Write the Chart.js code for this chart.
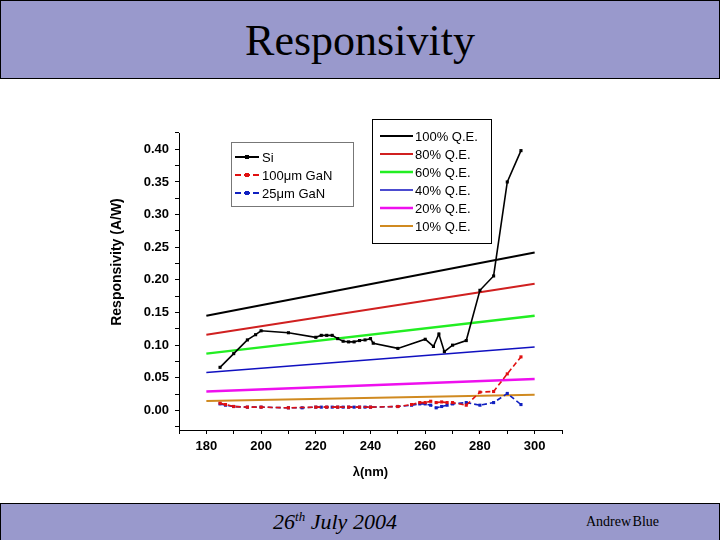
<!DOCTYPE html>
<html>
<head>
<meta charset="utf-8">
<script src="https://cdn.jsdelivr.net/npm/chart.js@4"></script>
<style>
    body { margin: 0; width: 720px; height: 540px; position: relative; background: #fff; overflow: hidden; }
    #titleBar { position: absolute; left: 0; top: 0; width: 718px; height: 77px; background: #9999cc; border: 1px solid #000; }
    #titleBar h1 { margin: 0; font: 44px "Liberation Serif", serif; text-align: center; line-height: 80px; color: #000; font-weight: normal; }
    #footer { position: absolute; left: 0; top: 503px; width: 718px; height: 37px; background: #9999cc; border: 1px solid #000; border-bottom: none; }
    #date { position: absolute; left: 0; width: 668px; text-align: center; top: 5px; font: italic 22px "Liberation Serif", serif; }
    #date sup { font-size: 13px; }
    #author { position: absolute; left: 585px; top: 10px; font: 14px "Liberation Serif", serif; word-spacing: -2px; }
    #chart { position: absolute; left: 0; top: 0; }
</style>
</head>
<body>
<div id="titleBar"><h1>Responsivity</h1></div>
<div id="footer">
    <div id="date">26<sup>th</sup> July 2004</div>
    <div id="author">Andrew Blue</div>
</div>
<canvas id="chart" width="720" height="540"></canvas>
<script>
"use strict";

// measured data
const siWavelength = [185, 190, 195, 198, 200, 210, 220, 222, 224, 226, 228, 230, 232, 234, 236, 238, 240, 241, 250, 260, 263, 265, 267, 270, 275, 280, 285, 290, 295];
const siResp = [0.066, 0.087, 0.108, 0.116, 0.122, 0.119, 0.112, 0.115, 0.115, 0.115, 0.110, 0.106, 0.105, 0.105, 0.107, 0.108, 0.110, 0.103, 0.095, 0.109, 0.098, 0.117, 0.090, 0.100, 0.107, 0.184, 0.206, 0.350, 0.398];

const gan100Wavelength = [185, 187, 190, 195, 200, 210, 220, 224, 228, 232, 236, 240, 250, 255, 258, 260, 262, 264, 266, 268, 270, 275, 280, 285, 290, 295];
const gan100Resp = [0.011, 0.009, 0.006, 0.005, 0.005, 0.004, 0.005, 0.005, 0.005, 0.005, 0.005, 0.005, 0.006, 0.009, 0.012, 0.012, 0.014, 0.012, 0.013, 0.012, 0.012, 0.008, 0.028, 0.029, 0.056, 0.082];

const gan25Wavelength = [185, 187, 190, 195, 200, 210, 215, 220, 222, 224, 226, 228, 230, 232, 234, 236, 238, 240, 250, 255, 258, 260, 262, 264, 266, 268, 270, 275, 280, 285, 290, 295];
const gan25Resp = [0.010, 0.008, 0.006, 0.005, 0.005, 0.004, 0.004, 0.005, 0.005, 0.005, 0.005, 0.005, 0.005, 0.005, 0.005, 0.005, 0.005, 0.005, 0.006, 0.008, 0.010, 0.010, 0.008, 0.004, 0.006, 0.008, 0.010, 0.012, 0.008, 0.012, 0.026, 0.009];

// quantum efficiency reference lines (end points)
const qeWavelength = [180, 300];
const qeLabels = ["100% Q.E.", "80% Q.E.", "60% Q.E.", "40% Q.E.", "20% Q.E.", "10% Q.E."];
const qe100 = [0.145, 0.242];
const qe80 = [0.116, 0.194];
const qe60 = [0.087, 0.145];
const qe40 = [0.058, 0.097];
const qe20 = [0.029, 0.048];
const qe10 = [0.0145, 0.024];

const measuredLabels = ["Si", "100\u03bcm GaN", "25\u03bcm GaN"];
const xMajorTicks = [180, 200, 220, 240, 260, 280, 300];
const yMajorTicks = [0.00, 0.05, 0.10, 0.15, 0.20, 0.25, 0.30, 0.35, 0.40];

function toPoints(xs, ys) {
    return xs.map((x, i) => ({ x: x, y: ys[i] }));
}

function measured(label, xs, ys, color, dash) {
    return {
        label: label,
        data: toPoints(xs, ys),
        borderColor: color,
        backgroundColor: color,
        borderWidth: 1.6,
        borderDash: dash,
        pointStyle: 'rect',
        pointRadius: 2.2,
        pointBorderWidth: 0,
        pointBackgroundColor: color
    };
}

function qeLine(label, ys, color, width) {
    return {
        label: label,
        data: toPoints(qeWavelength, ys),
        borderColor: color,
        borderWidth: width,
        pointRadius: 0
    };
}

const legendPlugin = {
    id: 'boxLegends',
    afterDraw(chart) {
        const ctx = chart.ctx;
        const sets = chart.data.datasets;
        ctx.save();

        // y axis title
        ctx.save();
        ctx.translate(117, 262);
        ctx.rotate(-Math.PI / 2);
        ctx.font = 'bold 14px "Liberation Sans", Arial, sans-serif';
        ctx.fillStyle = '#000';
        ctx.textAlign = 'center';
        ctx.textBaseline = 'middle';
        ctx.fillText('Responsivity (A/W)', 0, 0);
        ctx.restore();

        ctx.font = '13px "Liberation Sans", Arial, sans-serif';
        ctx.textBaseline = 'middle';
        ctx.textAlign = 'left';

        // measured legend
        ctx.fillStyle = '#fff';
        ctx.fillRect(231, 142, 122, 64);
        ctx.strokeStyle = '#777';
        ctx.lineWidth = 1;
        ctx.strokeRect(231.5, 142.5, 122, 64);
        sets.slice(0, 3).forEach((ds, i) => {
            const y = 157 + i * 18;
            ctx.strokeStyle = ds.borderColor;
            ctx.lineWidth = 2;
            ctx.setLineDash(i === 0 ? [] : [6, 3]);
            ctx.beginPath();
            ctx.moveTo(235, y);
            ctx.lineTo(259, y);
            ctx.stroke();
            ctx.setLineDash([]);
            ctx.fillStyle = ds.borderColor;
            ctx.fillRect(245, y - 2, 4, 4);
            ctx.fillStyle = '#000';
            ctx.fillText(ds.label, 262, y + 1);
        });

        // Q.E. legend
        ctx.fillStyle = '#fff';
        ctx.fillRect(372, 119, 119, 124);
        ctx.strokeStyle = '#000';
        ctx.lineWidth = 1;
        ctx.strokeRect(372.5, 119.5, 119, 124);
        sets.slice(3).forEach((ds, i) => {
            const y = 136 + i * 18;
            ctx.strokeStyle = ds.borderColor;
            ctx.lineWidth = ds.borderWidth;
            ctx.beginPath();
            ctx.moveTo(380, y);
            ctx.lineTo(413, y);
            ctx.stroke();
            ctx.fillStyle = '#000';
            ctx.fillText(ds.label, 415, y + 1);
        });
        ctx.restore();
    }
};

const ctx = document.getElementById('chart').getContext('2d');
new Chart(ctx, {
    type: 'line',
    data: {
        datasets: [
            measured(measuredLabels[0], siWavelength, siResp, '#000000', []),
            measured(measuredLabels[1], gan100Wavelength, gan100Resp, '#e01010', [5, 3]),
            measured(measuredLabels[2], gan25Wavelength, gan25Resp, '#1020c0', [5, 3]),
            qeLine(qeLabels[0], qe100, '#000000', 2),
            qeLine(qeLabels[1], qe80, '#d02020', 2),
            qeLine(qeLabels[2], qe60, '#22ee22', 2.5),
            qeLine(qeLabels[3], qe40, '#1010c0', 1.5),
            qeLine(qeLabels[4], qe20, '#ee10ee', 2.5),
            qeLine(qeLabels[5], qe10, '#d08a20', 2)
        ]
    },
    options: {
        responsive: false,
        animation: false,
        layout: { padding: { left: 109, top: 133, right: 158, bottom: 60 } },
        plugins: {
            legend: { display: false },
            tooltip: { enabled: false }
        },
        scales: {
            x: {
                type: 'linear',
                min: 170,
                max: 310,
                afterBuildTicks: (scale) => {
                    let ticks = [];
                    xMajorTicks.forEach(v => { ticks.push({ value: v - 10 }); ticks.push({ value: v }); });
                    ticks.push({ value: 310 });
                    scale.ticks = ticks;
                },
                afterFit: (scale) => { scale.height = 50; },
                grid: { drawOnChartArea: false, drawTicks: true, tickLength: 4, color: '#000' },
                border: { display: true, color: '#000', width: 1 },
                ticks: {
                    autoSkip: false,
                    maxRotation: 0,
                    padding: 5,
                    color: '#000',
                    font: { family: '"Liberation Sans", Arial', size: 13, weight: 'bold' },
                    callback: (value) => xMajorTicks.includes(value) ? String(value) : ''
                },
                title: {
                    display: true,
                    text: '\u03bb(nm)',
                    color: '#000',
                    padding: 0,
                    font: { family: '"Liberation Sans", Arial', size: 13, weight: 'bold' }
                }
            },
            y: {
                min: -0.03,
                max: 0.425,
                afterBuildTicks: (scale) => {
                    let ticks = [{ value: -0.025 }];
                    yMajorTicks.forEach(v => { ticks.push({ value: v }); ticks.push({ value: v + 0.025 }); });
                    scale.ticks = ticks;
                },
                afterFit: (scale) => { scale.width = 70; },
                grid: { drawOnChartArea: false, drawTicks: true, tickLength: 4, color: '#000' },
                border: { display: true, color: '#000', width: 1 },
                ticks: {
                    autoSkip: false,
                    padding: 6,
                    color: '#000',
                    font: { family: '"Liberation Sans", Arial', size: 13, weight: 'bold' },
                    callback: (value) => yMajorTicks.some(m => Math.abs(m - value) < 1e-6) ? value.toFixed(2) : ''
                }
            }
        }
    },
    plugins: [legendPlugin]
});
</script>
</body>
</html>
